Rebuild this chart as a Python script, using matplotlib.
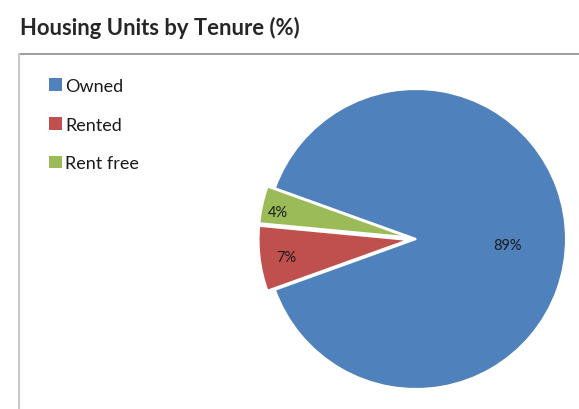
import matplotlib.pyplot as plt
from matplotlib.lines import Line2D
import numpy as np

plt.rcParams['font.family'] = ['Lato', 'DejaVu Sans']

# tenure shares (%)
categories = ['Owned', 'Rented', 'Rent free']
shares = [89, 7, 4]
colors = ['#4F81BD', '#C0504D', '#9BBB59']
explode = [0, 0.05, 0.05]
label_dist = [0.61, 0.82, 0.89]
label_turn = [-3.8, 0.8, 1.6]   # degrees, nudges labels like Excel's best fit

W, H = 579, 410
fig = plt.figure(figsize=(W / 100, H / 100), dpi=100)

# pie axes: centre at (416, 240) px, radius 150 px
cx, cy, r = 416, 240, 150
half = 1.1 * r
ax = fig.add_axes([(cx - half) / W, (H - cy - half) / H, 2 * half / W, 2 * half / H])

wedges, _, autotexts = ax.pie(
    shares, colors=colors, explode=explode, startangle=160.2, counterclock=False,
    autopct=lambda p: f'{p:.0f}%', radius=1,
    wedgeprops=dict(edgecolor='white', linewidth=1.5),
    textprops=dict(fontsize=10.5, color='#1a1a1a'))
# pie() resets the limits, so set them afterwards
ax.set_xlim(-1.1, 1.1)
ax.set_ylim(-1.1, 1.1)
ax.set_aspect('equal')
ax.axis('off')

# move the % labels to where Excel put them
for w, t, d, turn in zip(wedges, autotexts, label_dist, label_turn):
    ang = np.deg2rad((w.theta1 + w.theta2) / 2 + turn)
    x0, y0 = w.center
    t.set_position((x0 + d * np.cos(ang), y0 + d * np.sin(ang)))

# chart area border (top and left visible)
fig.add_artist(Line2D([19 / W, 1], [1 - 55 / H] * 2, color='#8c8c8c', lw=1.2))
fig.add_artist(Line2D([19 / W] * 2, [0, 1 - 55 / H], color='#c8c8c8', lw=1.5))

fig.text(20 / W, 1 - 28 / H, 'Housing Units by Tenure (%)', fontsize=15.8,
         fontweight='bold', color='#262626', va='center', ha='left')

leg = fig.legend(wedges, categories, loc='upper left', bbox_to_anchor=(49 / W, 1 - 79 / H),
                 frameon=False, fontsize=13, handlelength=0.7, handleheight=0.7,
                 handletextpad=0.2, labelspacing=1.25, borderpad=0, borderaxespad=0,
                 labelcolor='#1a1a1a')
for h in leg.legend_handles:
    h.set_linewidth(0)

fig.savefig('out.png', dpi=100)
